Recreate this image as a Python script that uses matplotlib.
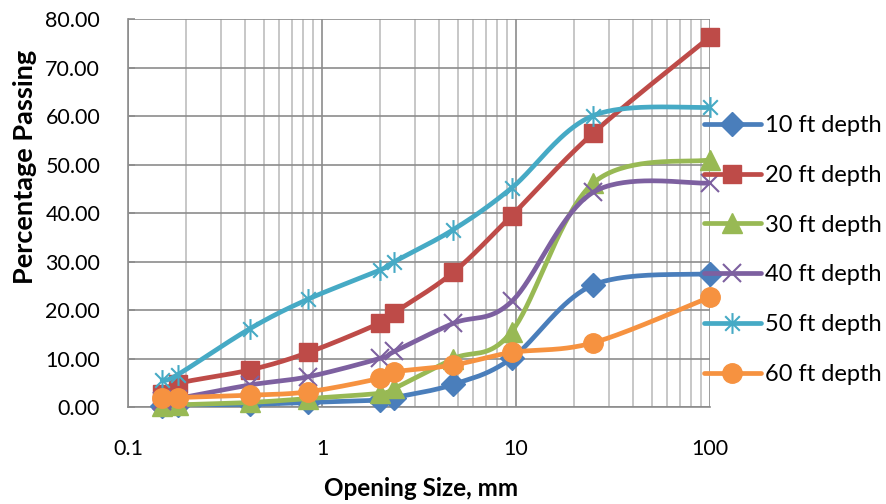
import numpy as np
import matplotlib
matplotlib.use("Agg")
import matplotlib.pyplot as plt
from matplotlib.path import Path
from matplotlib.ticker import LogLocator, FixedLocator, NullFormatter, FuncFormatter

plt.rcParams['font.family'] = ['Lato', 'DejaVu Sans']

# Sieve opening sizes (mm)
sizes = [0.15, 0.18, 0.425, 0.85, 2.0, 2.36, 4.75, 9.5, 25, 100]

depth_labels = ["10 ft depth", "20 ft depth", "30 ft depth",
                "40 ft depth", "50 ft depth", "60 ft depth"]

pass_10ft = [0.3, 0.4, 0.6, 1.0, 1.5, 2.0, 4.7, 10.1, 25.2, 27.5]
pass_20ft = [2.8, 4.9, 7.7, 11.3, 17.4, 19.5, 27.8, 39.5, 56.5, 76.3]
pass_30ft = [0.3, 0.5, 1.0, 1.8, 2.9, 3.9, 10.0, 15.6, 46.2, 51.0]
pass_40ft = [1.3, 1.8, 4.6, 6.3, 10.1, 11.5, 17.3, 21.8, 44.3, 46.2]
pass_50ft = [5.6, 6.7, 16.2, 22.3, 28.3, 30.0, 36.6, 45.2, 60.1, 61.8]
pass_60ft = [1.9, 2.0, 2.5, 3.2, 6.0, 7.3, 8.7, 11.3, 13.3, 22.7]

x_tick_values = [0.1, 1, 10, 100]
y_tick_values = [0, 10, 20, 30, 40, 50, 60, 70, 80]

colors = ['#4A7EBB', '#BE4B48', '#98B954', '#7D60A0', '#46AAC5', '#F69240']

# asterisk marker: an X with a vertical bar through it
star_path = Path(
    [(-0.7, -0.7), (0.7, 0.7), (-0.7, 0.7), (0.7, -0.7), (0, -1), (0, 1)],
    [Path.MOVETO, Path.LINETO, Path.MOVETO, Path.LINETO, Path.MOVETO, Path.LINETO],
)

styles = [
    dict(marker='D', ms=12, mew=1),
    dict(marker='s', ms=13.5, mew=1),
    dict(marker='^', ms=14, mew=1),
    dict(marker='x', ms=13, mew=1.5),
    dict(marker=star_path, ms=15, mew=1.5),
    dict(marker='o', ms=14, mew=1),
]


def smooth_curve(xs, ys, sx, sy, n=40):
    """Bezier smoothing (Catmull-Rom style) in screen-like log space."""
    px = np.log10(np.asarray(xs, float)) * sx
    py = np.asarray(ys, float) * sy
    pts = np.column_stack([px, py])
    out = []
    m = len(pts)
    for i in range(m - 1):
        p0 = pts[i - 1] if i > 0 else pts[i]
        p1 = pts[i]
        p2 = pts[i + 1]
        p3 = pts[i + 2] if i + 2 < m else pts[i + 1]
        c1 = p1 + (p2 - p0) / 6.0
        c2 = p2 - (p3 - p1) / 6.0
        t = np.linspace(0, 1, n)[:, None]
        seg = ((1 - t) ** 3) * p1 + 3 * ((1 - t) ** 2) * t * c1 \
            + 3 * (1 - t) * t ** 2 * c2 + t ** 3 * p2
        if i > 0:
            seg = seg[1:]
        out.append(seg)
    out = np.vstack(out)
    return 10 ** (out[:, 0] / sx), out[:, 1] / sy


fig = plt.figure(figsize=(8.86, 5.04), dpi=100)
ax = fig.add_axes([128 / 886, 1 - 407.3 / 504, 582 / 886, 388.3 / 504])

ax.set_xscale('log')
ax.set_xlim(0.1, 100)
ax.set_ylim(0, 80)

series = [pass_10ft, pass_20ft, pass_30ft, pass_40ft, pass_50ft, pass_60ft]
decade_px = 194.0
unit_px = 4.85
handles = []
for k, (vals, lab, col, st) in enumerate(zip(series, depth_labels, colors, styles)):
    cx, cy = smooth_curve(sizes, vals, decade_px, unit_px)
    ax.plot(cx, cy, color=col, lw=3.4, solid_capstyle='round', zorder=3 + 2 * k)
    ax.plot(sizes, vals, linestyle='none', color=col, mfc=col, mec=col,
            zorder=4 + 2 * k, clip_on=False, **st)
    h, = ax.plot([], [], color=col, lw=3.4, mfc=col, mec=col,
                 solid_capstyle='round', label=lab, **st)
    handles.append(h)

# grid
ax.xaxis.set_major_locator(FixedLocator(x_tick_values))
ax.xaxis.set_minor_locator(LogLocator(base=10, subs=np.arange(2, 10)))
ax.xaxis.set_minor_formatter(NullFormatter())
ax.xaxis.set_major_formatter(FuncFormatter(lambda v, p: f"{v:g}"))
ax.yaxis.set_major_locator(FixedLocator(y_tick_values))
ax.yaxis.set_major_formatter(FuncFormatter(lambda v, p: f"{v:.2f}"))

ax.grid(which='major', axis='both', color='#8C8C8C', lw=1.2, zorder=0)
ax.grid(which='minor', axis='x', color='#BEBEBE', lw=1.2, zorder=0)
ax.set_axisbelow(True)

for side in ['top', 'right']:
    ax.spines[side].set_visible(False)
for side in ['left', 'bottom']:
    ax.spines[side].set_color('#8C8C8C')
    ax.spines[side].set_linewidth(1.2)

ax.tick_params(axis='x', which='both', length=0, pad=23, labelsize=15.5, colors='#000000')
ax.tick_params(axis='y', which='major', direction='in', length=5, width=1.2,
               color='#8C8C8C', pad=20, labelsize=15.5)

ax.set_xlabel("Opening Size, mm", fontsize=17.5, fontweight='bold', va='center')
ax.xaxis.set_label_coords((421 - 128) / 582, (407.3 - 488) / 388.3)
ax.set_ylabel("Percentage Passing", fontsize=19.5, fontweight='bold', va='center', ha='center')
ax.yaxis.set_label_coords((25 - 128) / 582, (407.3 - 167) / 388.3)

leg = fig.legend(handles=handles, loc='center left',
                 bbox_to_anchor=(704 / 886, 1 - 250 / 504),
                 frameon=False, fontsize=17, numpoints=1,
                 handlelength=2.4, handletextpad=0.17, labelspacing=1.22,
                 borderpad=0, borderaxespad=0)

fig.savefig("out.png", dpi=100)
